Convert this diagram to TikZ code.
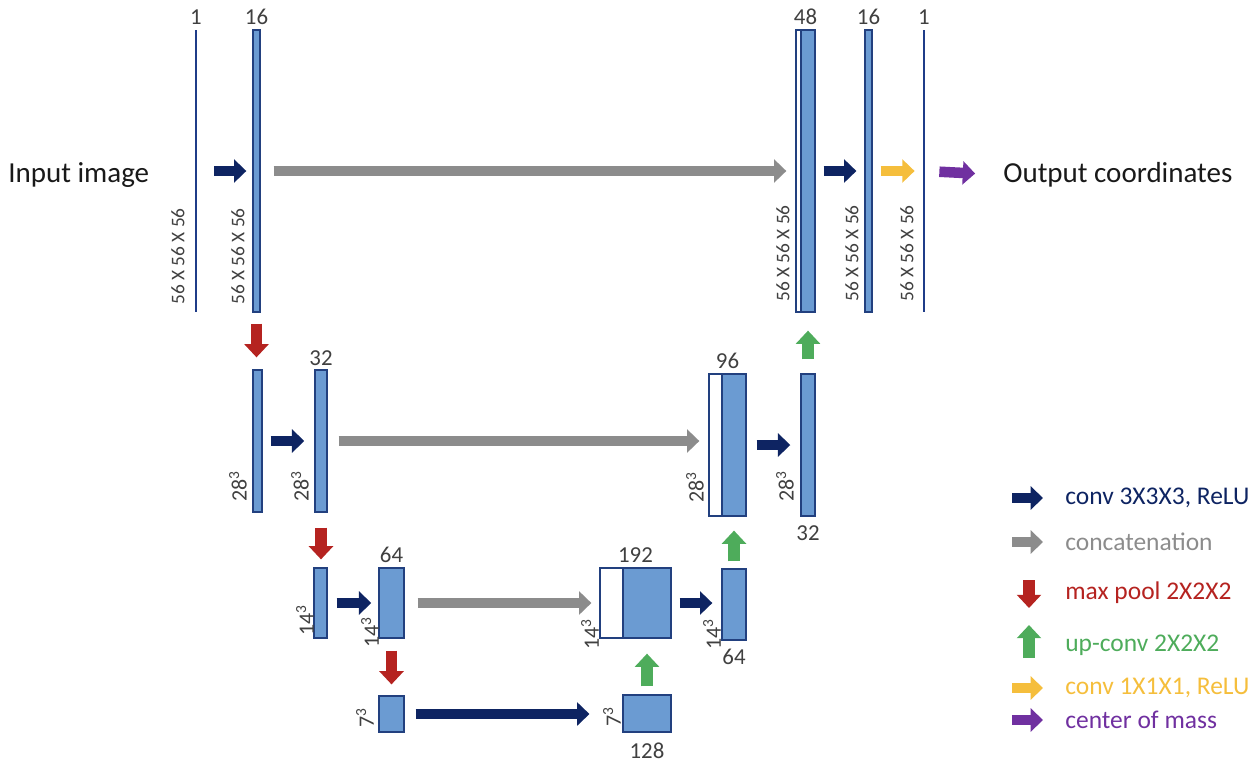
\documentclass[tikz,border=0pt]{standalone}
\usepackage{fontspec}
\setmainfont{Carlito}
\usetikzlibrary{arrows.meta, positioning, fit}
\definecolor{blockc}{HTML}{6B9BD2}
\definecolor{edgec}{HTML}{22407F}
\definecolor{linec}{HTML}{1F3C88}
\definecolor{convc}{HTML}{0E2462}
\definecolor{concatc}{HTML}{8C8C8C}
\definecolor{poolc}{HTML}{B52320}
\definecolor{upc}{HTML}{4EAC5B}
\definecolor{yconvc}{HTML}{F5BE3C}
\definecolor{comc}{HTML}{7030A0}
\definecolor{dimc}{HTML}{404040}

\begin{document}
\begin{tikzpicture}[x=0.02cm, y=-0.02cm,
      blk/.style={draw=edgec, fill=blockc, line width=0.8pt, inner sep=0pt},
      cat/.style={draw=edgec, fill=white, line width=0.8pt, inner sep=0pt},
      lay/.style={fill=linec, inner sep=0pt, minimum width=1.3pt, minimum height=5.64cm},
      num/.style={text=dimc, inner sep=0pt, font=\fontsize{13}{15}\selectfont},
      dim/.style={text=dimc, inner sep=0pt, rotate=90, anchor=west, font=\fontsize{11}{13}\selectfont},
      dimb/.style={dim, font=\fontsize{12.5}{14}\selectfont},
      big/.style={text=black!90, inner sep=0pt, anchor=west, font=\fontsize{16.5}{19}\selectfont},
      leg/.style={inner sep=0pt, anchor=west, font=\fontsize{14.5}{17}\selectfont},
      ba/.style={line width=6pt, -{Triangle[length=7pt, width=13pt]}},
      vba/.style={line width=6.6pt, -{Triangle[length=7.5pt, width=13.5pt]}},
      conv/.style={ba, draw=convc},
      concat/.style={ba, draw=concatc},
      pool/.style={vba, draw=poolc},
      up/.style={vba, draw=upc},
      yconv/.style={ba, draw=yconvc},
      com/.style={ba, draw=comc}]
    \useasboundingbox (0,0) rectangle (1260,765);
    % encoder
    \node[lay] (in1) at (196,171) {};
    \node[blk, fit={(253,30) (260,312)}] (e16) {};
    \node[blk, fit={(253,370) (262,512)}] (p16) {};
    \node[blk, fit={(315,370) (327,512)}] (e32) {};
    \node[blk, fit={(314,568) (327,638)}] (p32) {};
    \node[blk, fit={(379,568) (404,638)}] (e64) {};
    \node[blk, fit={(379,696) (404,732)}] (p64) {};
    \node[blk, fit={(623,695) (671,732)}] (bott128) {};
    % decoder
    \node[cat, fit={(600,568) (671,638)}] (cat192) {};
    \node[blk, fit={(623,568) (671,638)}] (d192) {};
    \node[blk, fit={(722,569) (746,640)}] (d64) {};
    \node[cat, fit={(709,374) (746,516)}] (cat96) {};
    \node[blk, fit={(722,374) (746,516)}] (d96) {};
    \node[blk, fit={(801,374) (815,516)}] (d32) {};
    \node[cat, fit={(796,30) (815,312)}] (cat48) {};
    \node[blk, fit={(801,30) (815,312)}] (d48) {};
    \node[blk, fit={(865,30) (872,312)}] (d16) {};
    \node[lay] (out1) at (924,171) {};
    % channel numbers
    \node[num, above=2.5pt of in1] (n1) {1};
    \node[num, above=2.5pt of e16] (n16) {16};
    \node[num, above=2pt of e32] (n32) {32};
    \node[num, above=2.5pt of e64] (n64) {64};
    \node[num, above=2.5pt of cat192] (n192) {192};
    \node[num, above=2.5pt of cat96] (n96) {96};
    \node[num, above=2.5pt of cat48] (n48) {48};
    \node[num, above=2.5pt of d16] (n16r) {16};
    \node[num, above=2.5pt of out1] (n1r) {1};
    \node[num, below=5pt of d32] (n32r) {32};
    \node[num, below=4.5pt of d64] (n64r) {64};
    \node[num, below=5.5pt of bott128] (n128) {128};
    % sizes
    \node[dim] (s1) at (178,305) {56 X 56 X 56};
    \node[dim] (s16) at (238,305) {56 X 56 X 56};
    \node[dim] (s48) at (783,302) {56 X 56 X 56};
    \node[dim] (s16r) at (852,302) {56 X 56 X 56};
    \node[dim] (s1r) at (907,302) {56 X 56 X 56};
    \node[dimb] (s28a) at (238,502) {28\textsuperscript{3}};
    \node[dimb] (s28b) at (300,502) {28\textsuperscript{3}};
    \node[dimb] (s28c) at (695,503) {28\textsuperscript{3}};
    \node[dimb] (s28d) at (785,502) {28\textsuperscript{3}};
    \node[dimb] (s14a) at (305,636) {14\textsuperscript{3}};
    \node[dimb] (s14b) at (370,648) {14\textsuperscript{3}};
    \node[dimb] (s14c) at (590,650) {14\textsuperscript{3}};
    \node[dimb] (s14d) at (712,650) {14\textsuperscript{3}};
    \node[dimb, anchor=center] (s7a) at (365,718) {7\textsuperscript{3}};
    \node[dimb, anchor=center] (s7b) at (612,717) {7\textsuperscript{3}};
    % input / output
    \node[big] (inimg) at (8,175) {Input image};
    \node[big] (outc) at (1003,175) {Output coordinates};
    % horizontal arrows
    \draw[conv, shorten <=9.6pt, shorten >=3.4pt] (in1.east) -- (e16.west);
    \draw[concat, shorten <=7.4pt, shorten >=5.1pt] (e16.east) -- (cat48.west);
    \draw[conv, shorten <=4.5pt, shorten >=4.5pt] (d48.east) -- (d16.west);
    \draw[yconv, shorten <=4.5pt, shorten >=4.5pt] (d16.east) -- (out1.west);
    \draw[com, shorten <=7.9pt, shorten >=15.9pt] (out1.east) -- (outc.west);
    \draw[conv, shorten <=4.5pt, shorten >=5.7pt] (p16.east) -- (e32.west);
    \draw[concat, shorten <=6.2pt, shorten >=5.1pt] (e32.east) -- (e32.east -| cat96.west);
    \draw[conv, shorten <=5.7pt, shorten >=5.7pt] (d96.east) -- (d32.west);
    \draw[conv, shorten <=5.1pt, shorten >=4pt] (p32.east) -- (e64.west);
    \draw[concat, shorten <=7.4pt, shorten >=4.5pt] (e64.east) -- (cat192.west);
    \draw[conv, shorten <=4.5pt, shorten >=5.1pt] (d192.east) -- (d192.east -| d64.west);
    \draw[conv, shorten <=6.2pt, shorten >=18.7pt] (p64.east) -- (p64.east -| bott128.west);
    % vertical arrows
    \draw[pool, shorten <=6.2pt, shorten >=6.8pt] (e16.south) -- (e16.south |- p16.north);
    \draw[pool, shorten <=8.5pt, shorten >=4.5pt] (e32.south) -- (e32.south |- p32.north);
    \draw[pool, shorten <=6.8pt, shorten >=6.2pt] (e64.south) -- (p64.north);
    \draw[up, shorten <=4.5pt, shorten >=8.5pt] (bott128.north) -- (d192.south);
    \draw[up, shorten <=4pt, shorten >=7.9pt] (d64.north) -- (d96.south);
    \draw[up, shorten <=7.9pt, shorten >=10.2pt] (d32.north) -- (d48.south);
    % legend
    \foreach \i/\y/\s/\t in {1/498/conv/{conv 3X3X3, ReLU}, 2/542/concat/concatenation,
                             5/688/yconv/{conv 1X1X1, ReLU}, 6/720/com/{center of mass}}{
      \coordinate (la\i) at (1012,\y);
      \coordinate (lb\i) at (1043,\y);
      \draw[\s] (la\i) -- (lb\i);
      \node[leg, text=\s c] (lt\i) at (1065,\y) {\t};}
    \coordinate (la3) at (1029,580);
    \coordinate (lb3) at (1029,608);
    \draw[pool] (la3) -- (lb3);
    \node[leg, text=poolc] (lt3) at (1065,593) {max pool 2X2X2};
    \coordinate (la4) at (1029,658);
    \coordinate (lb4) at (1029,625);
    \draw[up] (la4) -- (lb4);
    \node[leg, text=upc] (lt4) at (1065,645) {up-conv 2X2X2};
  \end{tikzpicture}
\end{document}
